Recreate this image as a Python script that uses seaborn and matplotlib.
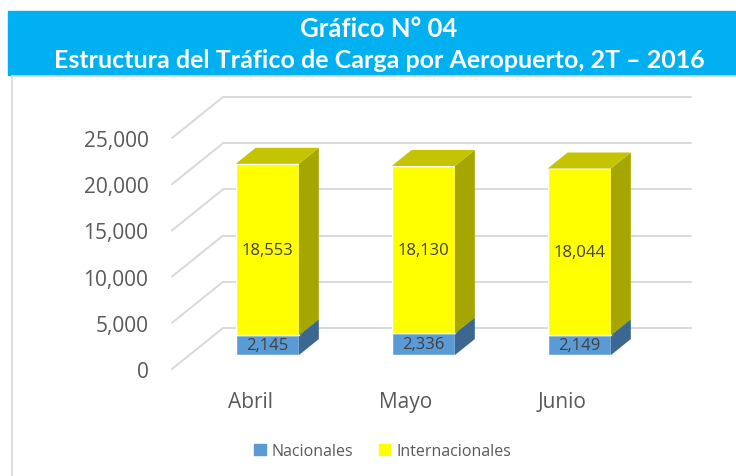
import matplotlib
matplotlib.use("Agg")
import matplotlib.pyplot as plt
import seaborn as sns
from matplotlib.patches import Polygon, Rectangle, Patch

meses = ["Abril", "Mayo", "Junio"]
nacionales = [2145, 2336, 2149]
internacionales = [18553, 18130, 18044]
series = ["Nacionales", "Internacionales"]
yticks = [0, 5000, 10000, 15000, 20000, 25000]

front = {"Nacionales": "#5B9BD5", "Internacionales": "#FFFF00"}
side = {"Nacionales": "#3B6790", "Internacionales": "#A6A600"}
top = {"Nacionales": "#4A7EAE", "Internacionales": "#C4C400"}
grid_color = "#D9D9D9"
text_color = "#595959"

sns.set_theme(style="white")
plt.rcParams["font.family"] = ["Open Sans", "DejaVu Sans"]

W, H = 736, 477
fig = plt.figure(figsize=(W / 100, H / 100), dpi=100)

# pixel geometry of the fake 3D box (front plane + depth offset)
x_left, x_right = 172, 691
y_zero = 370
dpx, dpy = 51, 41
px_per_cat = (x_right - dpx - x_left) / 3
px_per_val = 231 / 25000
dx = dpx / px_per_cat
dy = dpy / px_per_val
y_top = y_zero - (25000 + dy) * px_per_val
t0, depth = 0.34, 0.39

ax = fig.add_axes([x_left / W, 1 - y_zero / H,
                   (x_right - x_left) / W, (y_zero - y_top) / H])

sns.barplot(x=meses, y=nacionales, color=front["Nacionales"], saturation=1,
            width=0.405, errorbar=None, ax=ax, zorder=3)
sns.barplot(x=meses, y=internacionales, bottom=nacionales,
            color=front["Internacionales"], saturation=1,
            width=0.405, errorbar=None, ax=ax, zorder=4)

# push the front faces back into the box and add side / top faces
bars = list(ax.patches)
for k, p in enumerate(bars):
    name = series[k // 3]
    vals = nacionales if k < 3 else internacionales
    z = 3 if k < 3 else 4
    p.set_x(p.get_x() + t0 * dx)
    p.set_y(p.get_y() + t0 * dy)
    x0, y0 = p.get_x(), p.get_y()
    x1, y1 = x0 + p.get_width(), y0 + p.get_height()
    ddx, ddy = depth * dx, depth * dy
    ax.add_patch(Polygon([(x1, y0), (x1 + ddx, y0 + ddy), (x1 + ddx, y1 + ddy), (x1, y1)],
                         closed=True, color=side[name], zorder=z, lw=0))
    ax.add_patch(Polygon([(x0, y1), (x1, y1), (x1 + ddx, y1 + ddy), (x0 + ddx, y1 + ddy)],
                         closed=True, color=top[name], zorder=z, lw=0))
    ax.text((x0 + x1) / 2, (y0 + y1) / 2, f"{vals[k % 3]:,}", ha="center", va="center",
            fontsize=12, color="#404040", zorder=6)

# back wall and side wall gridlines
for v in yticks:
    ax.plot([-0.5, -0.5 + dx], [v, v + dy], color=grid_color, lw=1.4, zorder=1, clip_on=False)
    ax.plot([-0.5 + dx, 2.5 + dx], [v + dy, v + dy], color=grid_color, lw=1.4, zorder=1, clip_on=False)

ax.set_xlim(-0.5, 2.5 + dx)
ax.set_ylim(0, 25000 + dy)
ax.set_yticks(yticks)
ax.set_yticklabels([f"{v:,}" for v in yticks])
ax.tick_params(axis="y", length=0, pad=17, labelsize=15, labelcolor=text_color)
ax.tick_params(axis="x", length=0, pad=16, labelsize=15, labelcolor=text_color)
ax.set_xlabel("")
ax.set_ylabel("")
for s in ax.spines.values():
    s.set_visible(False)
ax.patch.set_alpha(0)

# title banner and frame
fig.patches.append(Rectangle((8 / W, 1 - 76 / H), 1 - 8 / W, 64 / H,
                             transform=fig.transFigure, color="#00B0F0", zorder=0))
fig.add_artist(plt.Line2D([12 / W, 12 / W], [0, 1 - 77 / H], color=grid_color, lw=1.2))
fig.add_artist(plt.Line2D([12 / W, 1], [1 - 77 / H, 1 - 77 / H], color=grid_color, lw=1.2))
fig.text(379 / W, 1 - 29 / H, "Gráfico N° 04", ha="center", va="center",
         fontsize=18.5, fontweight="bold", color="white", family=["Lato", "DejaVu Sans"])
fig.text(379 / W, 1 - 60 / H, "Estructura del Tráfico de Carga por Aeropuerto, 2T – 2016",
         ha="center", va="center", fontsize=18, fontweight="bold", color="white",
         family=["Lato", "DejaVu Sans"])

handles = [Patch(color=front[s]) for s in series]
fig.legend(handles, series, loc="center", bbox_to_anchor=(383 / W, 1 - 452 / H), ncol=2,
           frameon=False, fontsize=11.5, labelcolor=text_color, handlelength=0.7,
           handleheight=0.7, handletextpad=0.4, columnspacing=1.6)

fig.savefig("out.png", dpi=100)
